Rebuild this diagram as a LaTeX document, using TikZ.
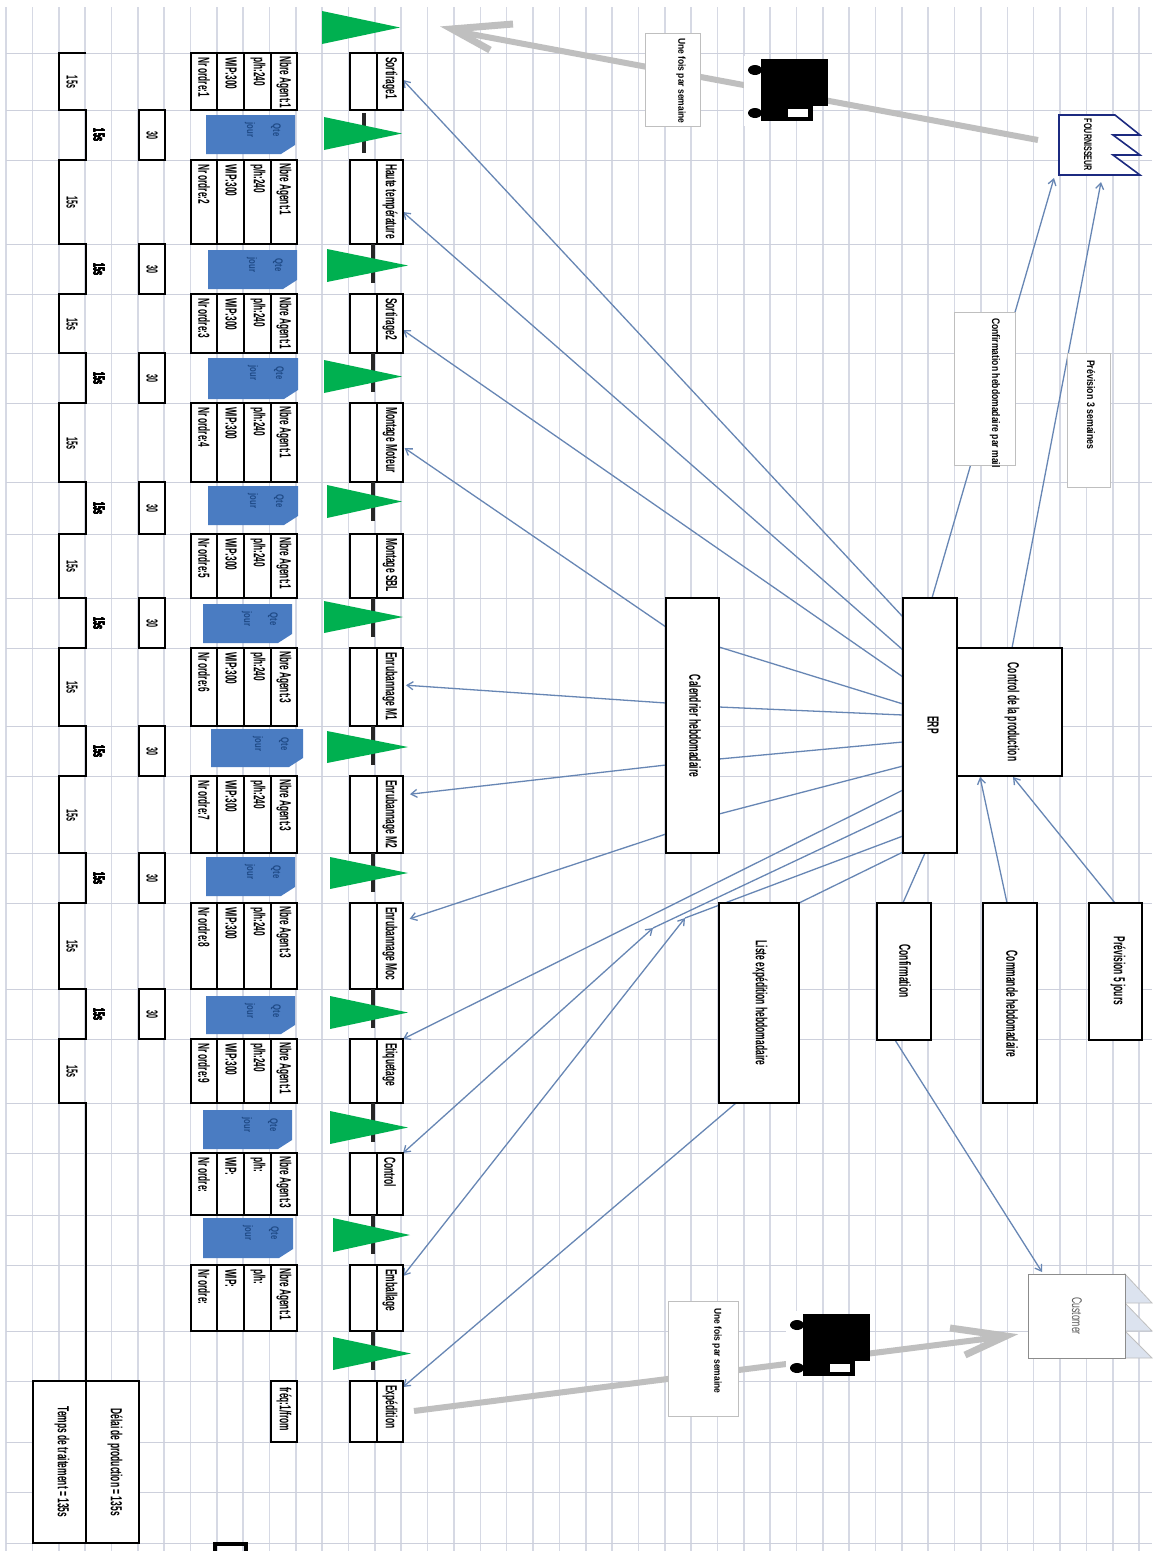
\documentclass[tikz,border=0pt]{standalone}
\usepackage{fontspec}
\setmainfont{Liberation Sans}
\usetikzlibrary{arrows.meta}
\definecolor{gridc}{HTML}{D6D9E4}
\definecolor{gridh}{HTML}{CDD0DC}
\definecolor{flowc}{HTML}{6786B4}
\definecolor{grayar}{HTML}{BFBFBF}
\definecolor{invblue}{HTML}{4A7CC2}
\definecolor{invtext}{HTML}{1F4A86}
\definecolor{tgreen}{HTML}{00B050}
\definecolor{navyf}{HTML}{1C2A80}
\definecolor{custfill}{HTML}{DCE3EF}
\pgfdeclarelayer{gridlayer}
\pgfdeclarelayer{flowlayer}
\pgfsetlayers{gridlayer,flowlayer,main}
\tikzset{
  boxst/.style={draw=black,line width=1.3pt,fill=white,inner sep=0pt,outer sep=0pt},
  labbox/.style={draw=grayar,line width=1pt,fill=white,inner sep=0pt,outer sep=0pt},
  ghost/.style={inner sep=0pt,outer sep=0pt},
  vtx/.style={rotate=-90,anchor=west,inner sep=0pt,outer sep=0pt,text=black},
  vcx/.style={rotate=-90,anchor=center,inner sep=0pt,outer sep=0pt,text=black},
  flow/.style={draw=flowc,line width=1.3pt},
  flowar/.style={flow,-{Straight Barb[length=6pt,width=8pt]}},
  flowbi/.style={flow,{Straight Barb[length=6pt,width=8pt]}-{Straight Barb[length=6pt,width=8pt]}},
  grayline/.style={draw=grayar,line width=6pt},
  graybarb/.style={draw=grayar,line width=7pt,line join=miter,miter limit=20},
  tri/.style={fill=tgreen},
  barst/.style={draw=black!85,line width=3.5pt},
  ladder/.style={draw=black,line width=1.3pt}
}
\newcommand\bx[6][boxst]{\node[#1,minimum width={(#5-#3)*1pt},minimum height={(#6-#4)*1pt}] (#2) at ({(#3+#5)/2},{(#4+#6)/2}) {};}
\newcommand\vt[6]{\node[vtx,font=\fontsize{#4}{#4}\selectfont\bfseries,xscale=#5] (#1) at ({#2},{#3}) {#6};}
\newcommand\vc[6]{\node[vcx,font=\fontsize{#4}{#4}\selectfont\bfseries,xscale=#5] (#1) at ({#2},{#3}) {#6};}
\newcommand\truck[3]{%
  \fill[white] ({#2-17},{#3-3}) rectangle ({#2+2},{#3+67});
  \fill[black] (#2,#3) rectangle ({#2+67},{#3+47});
  \fill[black] (#2,{#3+47}) rectangle ({#2+52},{#3+62});
  \fill[white] ({#2+27},{#3+50}) rectangle ({#2+47},{#3+58});
  \fill[black] ({#2-6},{#3+11}) ellipse [x radius=7,y radius=5];
  \fill[black] ({#2-6},{#3+54}) ellipse [x radius=7,y radius=5];
}
\begin{document}
\begin{tikzpicture}[x=1pt,y=-1pt]
\useasboundingbox (0,0) rectangle (1152,1551);
\begin{pgfonlayer}{gridlayer}
  \fill[white] (0,0) rectangle (1152,1551);
  \foreach \k in {0,...,43} \draw[gridc,line width=1.6pt] ({6+26.35*\k},7) -- ({6+26.35*\k},1551);
  \foreach \y in {53,110,160,244,294,353,403,482,534,598,648,726,776,853,903,989,1039,1103,1153,1215,1265,1331,1381,1442,1492,1543}
    \draw[gridh,line width=1pt] (6,\y) -- (1152,\y);
\end{pgfonlayer}

% process boxes, data boxes
\foreach \i/\ya/\yb/\ag/\ph/\wip/\nr/\nm in {
  1/53/110/1/240/300/1/Sortirage1,
  2/160/244/1/240/300/2/Haute température,
  3/294/353/1/240/300/3/Sortirage2,
  4/403/482/1/240/300/4/Montage Moteur,
  5/534/598/1/240/300/5/Montage SBL,
  6/648/726/3/240/300/6/Enrubannage M1,
  7/776/853/3/240/300/7/Enrubannage M2,
  8/903/989/3/240/300/8/Enrubannage Moc,
  9/1039/1103/1/240/300/9/Etiquetage,
  10/1153/1215/3/{}/{}/{}/Control,
  11/1265/1331/1/{}/{}/{}/Emballage}{
  \bx{pa\i}{350}{\ya}{377}{\yb}
  \bx{p\i}{377}{\ya}{403}{\yb}
  \vt{tp\i}{390}{\ya+4}{16}{.53}{\nm}
  \bx{da\i}{191}{\ya}{217}{\yb}
  \bx{db\i}{217}{\ya}{244}{\yb}
  \bx{dc\i}{244}{\ya}{271}{\yb}
  \bx{dd\i}{271}{\ya}{297}{\yb}
  \vt{ta\i}{204}{\ya+4}{16}{.52}{Nr ordre:\nr}
  \vt{tb\i}{231}{\ya+4}{16}{.52}{WIP:\wip}
  \vt{tc\i}{258}{\ya+4}{16}{.52}{p/h:\ph}
  \vt{td\i}{284}{\ya+3}{16}{.52}{Nbre Agent:\ag}
}
\bx{pa12}{350}{1381}{377}{1442}
\bx{p12}{377}{1381}{403}{1442}
\vt{tp12}{390}{1385}{16}{.53}{Expédition}
\bx{frq}{271}{1381}{297}{1442}
\vt{tfrq}{284}{1387}{16}{.52}{fréq:1/from}

% timeline
\draw[ladder] (86,53) -- (59,53) -- (59,110) -- (86,110) -- (86,160) -- (59,160) -- (59,244) -- (86,244) -- (86,294)
  -- (59,294) -- (59,353) -- (86,353) -- (86,403) -- (59,403) -- (59,482) -- (86,482) -- (86,534)
  -- (59,534) -- (59,598) -- (86,598) -- (86,648) -- (59,648) -- (59,726) -- (86,726) -- (86,776)
  -- (59,776) -- (59,853) -- (86,853) -- (86,903) -- (59,903) -- (59,989) -- (86,989) -- (86,1039)
  -- (59,1039) -- (59,1103) -- (86,1103) -- (86,1381);
\foreach \i/\y in {1/82,2/202,3/324,4/443,5/566,6/687,7/815,8/946,9/1071}
  \vc{sa\i}{72}{\y}{16}{.45}{15s}
\foreach \i/\ya/\yb in {1/110/160,2/244/294,3/353/403,4/482/534,5/598/648,6/726/776,7/853/903,8/989/1039}{
  \vc{sb\i}{99}{(\ya+\yb)/2}{16}{.45}{15s}
  \bx{th\i}{139}{\ya}{165}{\yb}
  \vc{tt\i}{152}{(\ya+\yb)/2}{16}{.45}{30}
}
\bx{trait}{33}{1381}{86}{1543}
\bx{delai}{86}{1381}{139}{1543}
\vc{ttrait}{62}{1462}{16}{.53}{Temps de traitement = 135s}
\vc{tdelai}{115}{1462}{16}{.53}{Délai de production = 135s}
\draw[black,line width=3.8pt] (215,1551) -- (215,1544) -- (246,1544) -- (246,1551);

% thick bars
\draw[barst] (364,113) -- (364,153);
\foreach \y in {244,353,482,598,726,853,989,1103,1215,1331}
  \draw[barst] (373,\y) -- (373,\y+39);

% inventory documents
\foreach \i/\xa/\xb/\ya/\yb in {1/206/295/115/154,2/208/297/250/289,3/208/298/358/399,4/208/298/486/525,6/203/292/604/643,7/211/303/729/767,8/206/295/857/896,9/206/295/996/1034,10/203/292/1110/1149,11/203/293/1218/1258}{
  \fill[invblue] (\xa,\ya) -- (\xb,\ya) -- (\xb,\yb-9) -- (\xb-14,\yb) -- (\xa,\yb) -- cycle;
  \vc{qt\i}{\xb-19}{\ya+15}{11}{.7}{\textcolor{invtext}{Qte}}
  \vc{jr\i}{\xb-45}{\ya+15}{11}{.7}{\textcolor{invtext}{jour}}
}

% green triangles
\foreach \xa/\ya/\yb/\xt in {322/11/44/400,324/117/150/402,327/249/282/408,324/360/393/402,327/485/518/402,324/601/633/403,327/731/763/408,330/857/889/408,330/996/1029/408,330/1111/1144/408,333/1218/1252/410,333/1337/1370/411}
  \fill[tri] (\xa,\ya) -- (\xt,{(\ya+\yb)/2}) -- (\xa,\yb) -- cycle;

% information boxes
\bx{cal}{666}{598}{719}{853}
\vc{tcal}{695}{726}{16}{.53}{Calendrier hebdomadaire}
\bx{erp}{903}{598}{957}{853}
\vc{terp}{933}{725}{16}{.53}{ERP}
\bx{ctl}{957}{648}{1062}{776}
\vc{tctl}{1012}{712}{16}{.53}{Control de la production}
\bx{liste}{719}{903}{799}{1103}
\vc{tliste}{760}{1003}{16}{.53}{Liste expédition hebdomadaire}
\bx{conf}{877}{903}{931}{1040}
\vc{tconf}{905}{971}{16}{.53}{Confirmation}
\bx{cmd}{983}{903}{1037}{1103}
\vc{tcmd}{1012}{1004}{16}{.53}{Commande hebdomadaire}
\bx{prev}{1089}{903}{1142}{1040}
\vc{tprev}{1118}{971}{16}{.53}{Prévision 5 jours}

% supplier
\bx[ghost]{four}{1059}{115}{1140}{175}
\draw[navyf,line width=1.6pt,fill=white] (1059,115) -- (1115,115) -- (1140,135) -- (1113,135) -- (1140,155) -- (1113,155) -- (1140,175) -- (1059,175) -- cycle;
\vc{tfour}{1088}{145}{11}{.65}{FOURNISSEUR}
% customer
\bx[ghost]{custz}{1028}{1274}{1152}{1358}
\foreach \ya/\yb in {1274/1303,1303/1331,1331/1358}
  \filldraw[draw=grayar,fill=custfill,line width=.8pt] (1125,\ya) -- (1152,\yb) -- (1125,\yb) -- cycle;
\node[draw=black!45,line width=.8pt,fill=white,inner sep=0pt,outer sep=0pt,minimum width=97pt,minimum height=84pt] (cust) at (1076.5,1316) {};
\node[vcx,font=\fontsize{14}{14}\selectfont,xscale=.62,text=black!65] (tcust) at (1077,1316) {Customer};

% labels
\bx[labbox]{lab1}{645}{33}{700}{126}
\vt{tlab1}{681}{38}{10}{.85}{Une fois par semaine}
\bx[labbox]{lab2}{668}{1301}{738}{1416}
\vt{tlab2}{717}{1308}{10}{.85}{Une fois par semaine}
\bx[labbox]{lab3}{954}{312}{1015}{465}
\vt{tlab3}{995}{318}{11}{.78}{Confirmation hebdomadaire par mail}
\bx[labbox]{lab4}{1067}{353}{1110}{487}
\vt{tlab4}{1091}{360}{11}{.8}{Prévision 3 semaines}

% trucks
\truck{tr1}{761}{59}
\truck{tr2}{803}{1314}

% connectors
\coordinate (fourA) at (1054,178);
\coordinate (fourB) at (1101,182);
\coordinate (fourC) at (1038,140);
\coordinate (kA) at (653,928);
\coordinate (kB) at (685,918);
\coordinate (endTop) at (460,32);
\coordinate (tipTop) at (452,29);
\coordinate (bTop1) at (513,24);
\coordinate (bTop2) at (490,50);
\coordinate (expOut) at (414,1411);
\coordinate (tipCust) at (1006,1336);
\coordinate (custIn) at (1000,1337);
\coordinate (bCust1) at (950,1328);
\coordinate (bCust2) at (965,1355);
\begin{pgfonlayer}{flowlayer}
  \draw[flowar] (erp.west |- 0,617) -- (p1.east |- 0,80);
  \draw[flowar] (erp.west |- 0,650) -- (p2.east |- 0,212);
  \draw[flowar] (erp.west |- 0,677) -- (p3.east |- 0,330);
  \draw[flowar,shorten >=2pt] (cal.west |- 0,627) -- (p4.east |- 0,447);
  \draw[flow] (erp.west |- 0,704) -- (cal.east |- 0,647);
  \draw[flow] (erp.west |- 0,715) -- (cal.east |- 0,707);
  \draw[flow] (erp.west |- 0,742) -- (cal.east |- 0,759);
  \draw[flow] (erp.west |- 0,766) -- (cal.east |- 0,814);
  \draw[flowar,shorten >=3pt] (cal.west |- 0,703) -- (p6.east |- 0,685);
  \draw[flowar,shorten >=7pt] (cal.west |- 0,765) -- (p7.east |- 0,795);
  \draw[flowar,shorten >=7pt] (cal.west |- 0,834) -- (p8.east |- 0,921);
  \draw[flowar] (erp.west |- 0,790) -- (p9.north east);
  \draw[flow] (erp.west |- 0,810) -- (kA);
  \draw[flowbi] (kA) -- (p10.north east);
  \draw[flow] (erp.west |- 0,836) -- (kB);
  \draw[flowbi] (kB) -- (p11.east |- 0,1276);
  \draw[flow] (erp.west |- 0,852) -- (liste.north east);
  \draw[flowar] (736,0 |- liste.south) -- (p12.east |- 0,1387);
  \draw[flowar] (932,0 |- erp.north) -- (fourA);
  \draw[flowar] (1012,0 |- ctl.north) -- (fourB);
  \draw[flow] (925,0 |- erp.south) -- (902,905);
  \draw[flowar] (1007,0 |- cmd.north) -- (980,777);
  \draw[flowar] (1115,0 |- prev.north) -- (1013,777);
  \draw[flowar] (895,0 |- conf.south) -- (1042,1272);
  \draw[grayline] (fourC) -- (endTop);
  \draw[graybarb] (bTop1) -- (tipTop) -- (bTop2);
  \draw[grayline] (expOut) -- (custIn);
  \draw[graybarb] (bCust1) -- (tipCust) -- (bCust2);
\end{pgfonlayer}
\end{tikzpicture}
\end{document}
